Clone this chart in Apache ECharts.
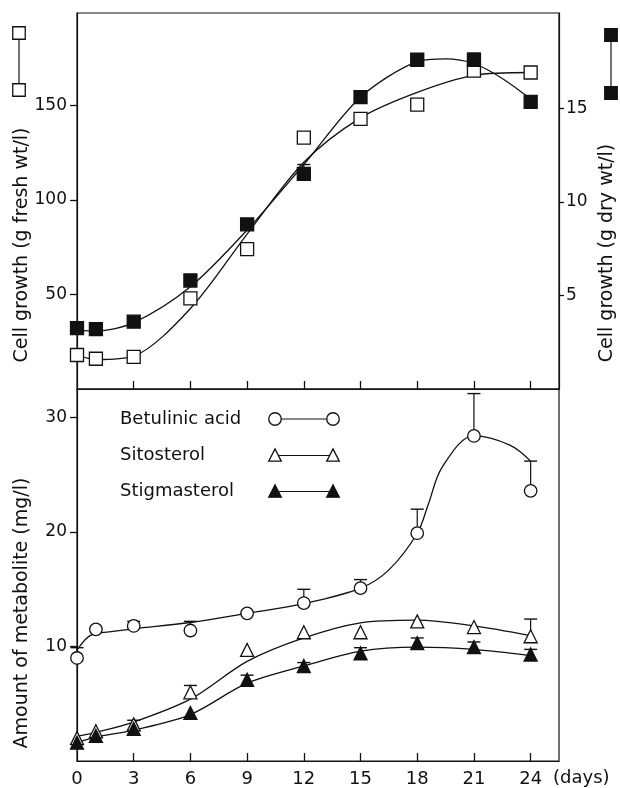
<!DOCTYPE html>
<html>
<head>
<meta charset="utf-8">
<script src="https://cdn.jsdelivr.net/npm/echarts@6/dist/echarts.min.js"></script>
<style>
html,body{margin:0;padding:0;background:#fff;}
#chart{width:620px;height:788px;}
</style>
</head>
<body>
<div id="chart"></div>
<script>
// ---------- data ----------
const days = [0, 1, 3, 6, 9, 12, 15, 18, 21, 24];
const dayTicks = [3, 6, 9, 12, 15, 18, 21, 24];
const dayLabels = [0, 3, 6, 9, 12, 15, 18, 21, 24];
const freshTicks = [50, 100, 150];
const dryTicks = [5, 10, 15];
const metTicks = [10, 20, 30];

// top panel: measured points
const freshWt = [18, 16, 17, 48, 74, 133, 143, 150.5, 168.5, 167.5];
const dryWt = [3.25, 3.2, 3.6, 5.8, 8.8, 11.5, 15.6, 17.6, 17.6, 15.35];
// top panel: hand-fitted curves
const freshCurveDays = [0, 1, 3, 6, 9, 12, 15, 18, 21, 24];
const freshCurve = [18, 15.6, 17.4, 42.6, 82, 120, 143.5, 157, 166, 167.5];
const dryCurveDays = [0, 1, 3, 6, 9, 12, 15, 18, 19.5, 21, 22.5, 24];
const dryCurve = [3.15, 3.1, 3.55, 5.47, 8.5, 12.0, 15.6, 17.5, 17.65, 17.4, 16.6, 15.5];
// top panel error bar tops (dry wt)
const dryErrTop = [null, null, null, null, null, 12.0, null, null, 17.95, null];

// bottom panel: measured points
const betulinic = [9.0, 11.5, 11.8, 11.4, 12.9, 13.8, 15.1, 19.9, 28.4, 23.6];
const sitosterol = [2.0, 2.6, 3.2, 6.0, 9.7, 11.25, 11.25, 12.2, 11.7, 10.9];
const stigmasterol = [1.6, 2.2, 2.8, 4.2, 7.1, 8.3, 9.4, 10.3, 9.95, 9.3];
// error bar tops
const betulinicErrTop = [9.9, null, 12.2, 12.2, null, 15.0, 15.85, 22.0, 32.1, 26.2];
const sitosterolErrTop = [null, null, 3.56, 6.6, null, null, null, null, null, 12.4];
const stigmasterolErrTop = [null, null, null, null, 7.5, 8.6, 9.9, 10.75, 10.4, 9.75];
// hand-fitted curves
const betCurveDays = [0, 0.43, 0.8, 1.7, 3, 6, 9, 12, 15, 16.5, 18, 18.6, 19.33, 21, 22.9, 24];
const betCurve = [9.7, 10.6, 11.05, 11.28, 11.55, 12.1, 12.9, 13.75, 15.1, 16.7, 19.9, 22.5, 25.7, 28.4, 27.6, 26.2];
const sitCurveDays = [0, 1, 3, 6, 9, 12, 15, 18, 21, 24];
const sitCurve = [2.17, 2.5, 3.4, 5.4, 8.7, 10.75, 12.07, 12.3, 11.8, 10.95];
const stiCurveDays = [0, 1, 3, 6, 9, 12, 15, 18, 21, 24];
const stiCurve = [1.6, 2.08, 2.7, 4.06, 6.8, 8.3, 9.6, 9.95, 9.75, 9.2];

// legend names
const legendNames = ['Betulinic acid', 'Sitosterol', 'Stigmasterol'];

// ---------- helpers ----------
const INK = '#111';
const FONT = 'DejaVu Sans';
function pairs(xs, ys) { return xs.map((x, i) => [x, ys[i]]); }
function errPairs(xs, vals, tops) {
  const out = [];
  xs.forEach((x, i) => { if (tops[i] != null) out.push([x, vals[i], tops[i]]); });
  return out;
}
function errSeries(data, xi, yi) {
  return {
    type: 'custom', xAxisIndex: xi, yAxisIndex: yi, z: 2, silent: true,
    data: data,
    renderItem: function (params, api) {
      const p0 = api.coord([api.value(0), api.value(1)]);
      const p1 = api.coord([api.value(0), api.value(2)]);
      const w = 6.5;
      return {
        type: 'group',
        children: [
          { type: 'line', shape: { x1: p0[0], y1: p0[1], x2: p1[0], y2: p1[1] }, style: { stroke: INK, lineWidth: 1.2 } },
          { type: 'line', shape: { x1: p1[0] - w, y1: p1[1], x2: p1[0] + w, y2: p1[1] }, style: { stroke: INK, lineWidth: 1.4 } }
        ]
      };
    }
  };
}
function curve(xs, ys, xi, yi, sm) {
  return {
    type: 'line', xAxisIndex: xi, yAxisIndex: yi, data: pairs(xs, ys),
    smooth: sm, showSymbol: false, symbol: 'none', silent: true, z: 1,
    lineStyle: { color: INK, width: 1.3 }
  };
}
function pts(vals, xi, yi, symbol, size, filled) {
  return {
    type: 'scatter', xAxisIndex: xi, yAxisIndex: yi, data: pairs(days, vals),
    symbol: symbol, symbolSize: size, z: 3, silent: true,
    itemStyle: { color: filled ? INK : '#fff', borderColor: INK, borderWidth: 1.3, opacity: 1 }
  };
}
const tickLabelStyle = { color: INK, fontFamily: FONT, fontSize: 17 };

// ---------- legend graphics ----------
const graphics = [];
const legendY = [419, 455.5, 491.5];
const legendSym = [
  { shape: 'circle', fill: '#fff' },
  { shape: 'triangle', fill: '#fff' },
  { shape: 'triangle', fill: INK }
];
function symEl(kind, cx, cy, fill, size) {
  const style = { fill: fill, stroke: INK, lineWidth: 1.3 };
  if (kind === 'circle') return { type: 'circle', shape: { cx: cx, cy: cy, r: size / 2 }, style: style, z: 10 };
  if (kind === 'rect') return { type: 'rect', shape: { x: cx - size / 2, y: cy - size / 2, width: size, height: size }, style: style, z: 10 };
  const h = size * 0.9;
  return { type: 'polygon', shape: { points: [[cx, cy - h / 2 - 1], [cx + size / 2, cy + h / 2], [cx - size / 2, cy + h / 2]] }, style: style, z: 10 };
}
legendNames.forEach((nm, i) => {
  const y = legendY[i];
  graphics.push({ type: 'text', x: 120, y: y, style: { text: nm, fill: INK, font: '18px "DejaVu Sans"', textAlign: 'left', textVerticalAlign: 'middle' }, z: 10 });
  graphics.push({ type: 'line', shape: { x1: 275, y1: y, x2: 333, y2: y }, style: { stroke: INK, lineWidth: 1.2 }, z: 9 });
  graphics.push(symEl(legendSym[i].shape, 275, y, legendSym[i].fill, 12.5));
  graphics.push(symEl(legendSym[i].shape, 333, y, legendSym[i].fill, 12.5));
});
// axis key symbols
graphics.push({ type: 'line', shape: { x1: 19, y1: 33, x2: 19, y2: 90 }, style: { stroke: INK, lineWidth: 1.2 }, z: 9 });
graphics.push(symEl('rect', 19, 33, '#fff', 12.5));
graphics.push(symEl('rect', 19, 90, '#fff', 12.5));
graphics.push({ type: 'line', shape: { x1: 611, y1: 35, x2: 611, y2: 93 }, style: { stroke: INK, lineWidth: 1.2 }, z: 9 });
graphics.push(symEl('rect', 611, 35, INK, 12.5));
graphics.push(symEl('rect', 611, 93, INK, 12.5));
// axis titles
function vtitle(text, x, y) {
  return { type: 'text', x: x, y: y, rotation: Math.PI / 2,
    style: { text: text, fill: INK, font: '19px "DejaVu Sans"', textAlign: 'center', textVerticalAlign: 'middle' }, z: 10 };
}
graphics.push(vtitle('Cell growth (g fresh wt/l)', 22, 245));
graphics.push(vtitle('Cell growth (g dry wt/l)', 607, 253));
graphics.push(vtitle('Amount of metabolite (mg/l)', 22, 613));
graphics.push({ type: 'text', x: 553, y: 778, style: { text: '(days)', fill: INK, font: '18px "DejaVu Sans"', textAlign: 'left', textVerticalAlign: 'middle' }, z: 10 });

// ---------- chart ----------
const chart = echarts.init(document.getElementById('chart'), null, { renderer: 'canvas' });
const option = {
  backgroundColor: '#fff',
  animation: false,
  grid: [
    { left: 77, top: 13, width: 482, height: 376, show: true, borderColor: INK, borderWidth: 1.2, backgroundColor: 'transparent' },
    { left: 77, top: 389, width: 482, height: 373, show: true, borderColor: INK, borderWidth: 1.2, backgroundColor: 'transparent' }
  ],
  xAxis: [
    { type: 'value', gridIndex: 0, min: 0, max: 25.5, interval: 3,
      axisLine: { show: true, onZero: false, lineStyle: { color: INK, width: 1.2 } },
      axisTick: { show: true, inside: true, length: 8, customValues: dayTicks, lineStyle: { color: INK, width: 1.3 } },
      axisLabel: { show: false }, splitLine: { show: false } },
    { type: 'value', gridIndex: 1, min: 0, max: 25.5, interval: 3,
      axisLine: { show: true, onZero: false, lineStyle: { color: INK, width: 1.2 } },
      axisTick: { show: true, inside: true, length: 8, customValues: dayTicks, lineStyle: { color: INK, width: 1.3 } },
      axisLabel: Object.assign({ show: true, margin: 9, customValues: dayLabels }, tickLabelStyle, { fontSize: 18 }),
      splitLine: { show: false } }
  ],
  yAxis: [
    { type: 'value', gridIndex: 0, position: 'left', min: 0, max: 199, interval: 50,
      axisLine: { show: true, onZero: false, lineStyle: { color: INK, width: 1.2 } },
      axisTick: { show: true, inside: false, length: 7, customValues: freshTicks, lineStyle: { color: INK, width: 1.3 } },
      axisLabel: Object.assign({ show: true, margin: 10, customValues: freshTicks }, tickLabelStyle),
      splitLine: { show: false } },
    { type: 'value', gridIndex: 0, position: 'right', min: 0, max: 20.1, interval: 5,
      axisLine: { show: true, onZero: false, lineStyle: { color: INK, width: 1.2 } },
      axisTick: { show: true, inside: false, length: 5, customValues: dryTicks, lineStyle: { color: INK, width: 1.3 } },
      axisLabel: Object.assign({ show: true, margin: 7, customValues: dryTicks }, tickLabelStyle),
      splitLine: { show: false } },
    { type: 'value', gridIndex: 1, position: 'left', min: 0, max: 32.5, interval: 10,
      axisLine: { show: true, onZero: false, lineStyle: { color: INK, width: 1.2 } },
      axisTick: { show: true, inside: false, length: 7, customValues: metTicks, lineStyle: { color: INK, width: 1.3 } },
      axisLabel: Object.assign({ show: true, margin: 10, customValues: metTicks }, tickLabelStyle),
      splitLine: { show: false } }
  ],
  series: [
    curve(freshCurveDays, freshCurve, 0, 0, 0.3),
    curve(dryCurveDays, dryCurve, 0, 1, 0.3),
    errSeries(errPairs(days, dryWt, dryErrTop), 0, 1),
    pts(freshWt, 0, 0, 'rect', 13, false),
    pts(dryWt, 0, 1, 'rect', 13, true),

    curve(betCurveDays, betCurve, 1, 2, 0.35),
    curve(sitCurveDays, sitCurve, 1, 2, 0.3),
    curve(stiCurveDays, stiCurve, 1, 2, 0.3),
    errSeries(errPairs(days, betulinic, betulinicErrTop), 1, 2),
    errSeries(errPairs(days, sitosterol, sitosterolErrTop), 1, 2),
    errSeries(errPairs(days, stigmasterol, stigmasterolErrTop), 1, 2),
    pts(betulinic, 1, 2, 'circle', 12.5, false),
    pts(sitosterol, 1, 2, 'triangle', 13, false),
    pts(stigmasterol, 1, 2, 'triangle', 13, true)
  ],
  graphic: graphics
};
chart.setOption(option);
</script>
</body>
</html>
